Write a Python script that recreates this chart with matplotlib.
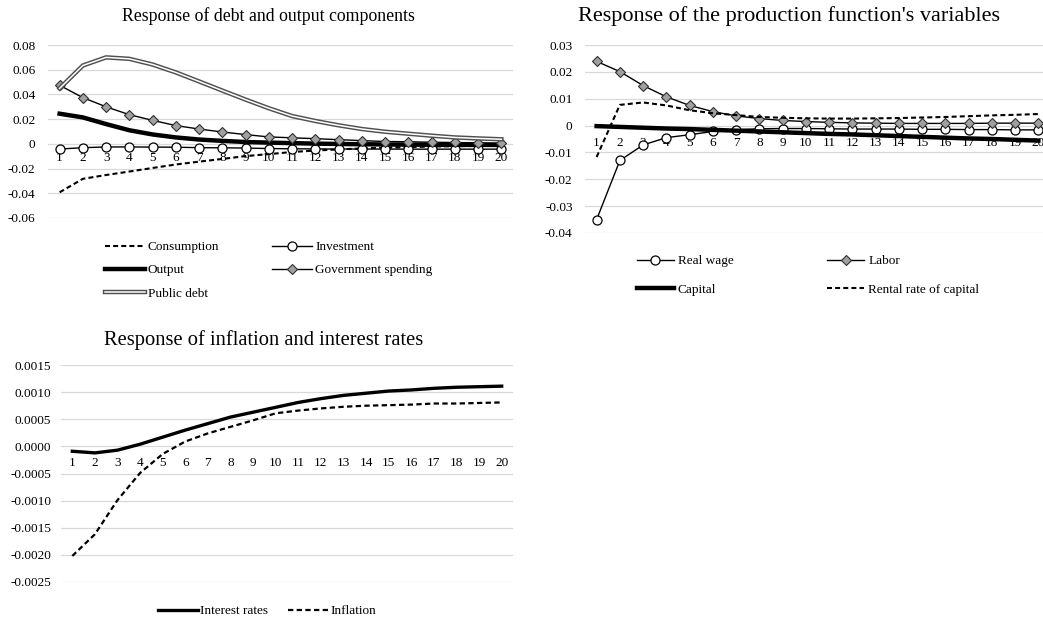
import matplotlib
matplotlib.use("Agg")
import matplotlib.pyplot as plt
import matplotlib.patheffects as pe

plt.rcParams['font.family'] = ['Liberation Serif', 'DejaVu Serif']
plt.rcParams['axes.unicode_minus'] = False

# horizon (quarters)
periods = list(range(1, 21))

# --- debt and output components ---
consumption = [-0.0392, -0.0283, -0.0252, -0.0224, -0.0195, -0.0167, -0.0144, -0.0122, -0.0099, -0.0083,
               -0.0066, -0.0054, -0.0045, -0.0037, -0.0031, -0.0026, -0.0022, -0.0019, -0.0017, -0.0015]
investment = [-0.0042, -0.0031, -0.0025, -0.0025, -0.0026, -0.0027, -0.0031, -0.0032, -0.0034, -0.0038,
              -0.0040, -0.0041, -0.0042, -0.0042, -0.0042, -0.0043, -0.0043, -0.0043, -0.0043, -0.0043]
output = [0.0244, 0.0214, 0.0160, 0.0110, 0.0076, 0.0052, 0.0035, 0.0024, 0.0015, 0.0010,
          0.0006, 0.0002, -0.0001, -0.0003, -0.0005, -0.0006, -0.0007, -0.0008, -0.0008, -0.0009]
gov_spending = [0.0474, 0.0374, 0.0300, 0.0236, 0.0190, 0.0148, 0.0120, 0.0096, 0.0075, 0.0056,
                0.0049, 0.0042, 0.0034, 0.0026, 0.0019, 0.0017, 0.0013, 0.0011, 0.0008, 0.0006]
public_debt = [0.0449, 0.0634, 0.0700, 0.0688, 0.0642, 0.0578, 0.0505, 0.0431, 0.0358, 0.0288,
               0.0225, 0.0185, 0.0150, 0.0120, 0.0098, 0.0082, 0.0066, 0.0052, 0.0044, 0.0037]

# --- production function variables ---
real_wage = [-0.0350, -0.0130, -0.0072, -0.0045, -0.0034, -0.0022, -0.0015, -0.0012, -0.0011, -0.0011,
             -0.0012, -0.0013, -0.0013, -0.0013, -0.0014, -0.0014, -0.0015, -0.0015, -0.0016, -0.0016]
labor = [0.0239, 0.0201, 0.0149, 0.0107, 0.0075, 0.0052, 0.0036, 0.0026, 0.0019, 0.0015,
         0.0012, 0.0010, 0.0009, 0.0008, 0.0008, 0.0008, 0.0008, 0.0009, 0.0009, 0.0009]
capital = [-0.0002, -0.0005, -0.0008, -0.0011, -0.0013, -0.0016, -0.0019, -0.0022, -0.0025, -0.0028,
           -0.0031, -0.0033, -0.0036, -0.0039, -0.0042, -0.0045, -0.0048, -0.0050, -0.0053, -0.0056]
rental_rate = [-0.0117, 0.0077, 0.0086, 0.0075, 0.0057, 0.0046, 0.0039, 0.0032, 0.0029, 0.0027,
               0.0026, 0.0026, 0.0027, 0.0028, 0.0030, 0.0032, 0.0035, 0.0038, 0.0040, 0.0043]

# --- inflation and interest rates ---
interest_rates = [-0.00009, -0.00012, -0.00007, 0.00004, 0.00017, 0.00030, 0.00042, 0.00054, 0.00063, 0.00072,
                  0.00081, 0.00088, 0.00094, 0.00098, 0.00102, 0.00104, 0.00107, 0.00109, 0.00110, 0.00111]
inflation = [-0.00202, -0.00162, -0.00099, -0.00049, -0.00014, 0.00009, 0.00024, 0.00036, 0.00048, 0.00061,
             0.00066, 0.00070, 0.00073, 0.00075, 0.00076, 0.00077, 0.00079, 0.00079, 0.00080, 0.00081]

yticks1 = [-0.06, -0.04, -0.02, 0, 0.02, 0.04, 0.06, 0.08]
ylabels1 = ['-0.06', '-0.04', '-0.02', '0', '0.02', '0.04', '0.06', '0.08']
yticks2 = [-0.04, -0.03, -0.02, -0.01, 0, 0.01, 0.02, 0.03]
ylabels2 = ['-0.04', '-0.03', '-0.02', '-0.01', '0', '0.01', '0.02', '0.03']
yticks3 = [-0.0025, -0.0020, -0.0015, -0.0010, -0.0005, 0.0, 0.0005, 0.0010, 0.0015]
ylabels3 = ['-0.0025', '-0.0020', '-0.0015', '-0.0010', '-0.0005', '0.0000', '0.0005', '0.0010', '0.0015']

W, H = 1043, 620
GRID = '#d9d9d9'
DIAMOND = '#a0a0a0'
FS = 9.5

dash = (0, (2.4, 1.5))
circle = dict(marker='o', ms=6.5, mfc='white', mec='black', mew=0.9)
diamond = dict(marker='D', ms=5, mfc=DIAMOND, mec='#303030', mew=0.8)
double = [pe.Stroke(linewidth=3.2, foreground='#505050'), pe.Normal()]


def px_axes(fig, left, top, width, height):
    """add axes placed by pixel box (top-left origin)"""
    return fig.add_axes([left / W, 1 - (top + height) / H, width / W, height / H])


def style(ax, ticks, labels, pad_y, pad_x):
    ax.set_xlim(0.5, 20.5)
    ax.set_ylim(ticks[0], ticks[-1])
    ax.set_yticks(ticks)
    ax.set_yticklabels(labels)
    ax.set_xticks(periods)
    ax.set_xticklabels([str(p) for p in periods])
    for s in ax.spines.values():
        s.set_visible(False)
    ax.spines['bottom'].set_position(('data', 0))
    ax.tick_params(axis='both', length=0, labelsize=FS)
    ax.tick_params(axis='y', pad=pad_y)
    ax.tick_params(axis='x', pad=pad_x)
    ax.grid(axis='y', color=GRID, lw=0.9)
    ax.set_axisbelow(True)


fig = plt.figure(figsize=(W / 100, H / 100), dpi=100)

# panel 1
ax1 = px_axes(fig, 48, 45, 465, 173)
style(ax1, yticks1, ylabels1, 9, 6)
l_c, = ax1.plot(periods, consumption, color='black', lw=1.5, ls=dash, label='Consumption')
l_i, = ax1.plot(periods, investment, color='black', lw=1.0, label='Investment', **circle)
l_o, = ax1.plot(periods, output, color='black', lw=3.2, label='Output')
l_g, = ax1.plot(periods, gov_spending, color='black', lw=1.0, label='Government spending', **diamond)
l_d, = ax1.plot(periods, public_debt, color='white', lw=1.1, path_effects=double, label='Public debt')
fig.legend(handles=[l_c, l_o, l_d, l_i, l_g], ncol=2, loc='upper left',
           bbox_to_anchor=(105 / W, 1 - 241 / H), frameon=False, fontsize=FS,
           borderpad=0, borderaxespad=0, handlelength=3.0, handletextpad=0.25,
           columnspacing=4.0, labelspacing=0.83)

# panel 2
ax2 = px_axes(fig, 585, 45, 465, 188)
style(ax2, yticks2, ylabels2, 9, 8)
l_w, = ax2.plot(periods, real_wage, color='black', lw=1.0, label='Real wage', **circle)
l_l, = ax2.plot(periods, labor, color='black', lw=1.0, label='Labor', **diamond)
l_k, = ax2.plot(periods, capital, color='black', lw=3.2, label='Capital')
l_r, = ax2.plot(periods, rental_rate, color='black', lw=1.5, ls=dash, label='Rental rate of capital')
fig.legend(handles=[l_w, l_k, l_l, l_r], ncol=2, loc='upper left',
           bbox_to_anchor=(637 / W, 1 - 255 / H), frameon=False, fontsize=FS,
           borderpad=0, borderaxespad=0, handlelength=2.8, handletextpad=0.3,
           columnspacing=7.1, labelspacing=1.25)

# panel 3
ax3 = px_axes(fig, 61, 365, 452, 217)
style(ax3, yticks3, ylabels3, 7, 8)
l_ir, = ax3.plot(periods, interest_rates, color='black', lw=2.4, label='Interest rates')
l_pi, = ax3.plot(periods, inflation, color='black', lw=1.6, ls=dash, label='Inflation')
fig.legend(handles=[l_ir, l_pi], ncol=2, loc='upper left',
           bbox_to_anchor=(158 / W, 1 - 605 / H), frameon=False, fontsize=FS,
           borderpad=0, borderaxespad=0, handlelength=3.0, handletextpad=0.2,
           columnspacing=1.5)

fig.text(268 / W, 1 - 21 / H, 'Response of debt and output components',
         ha='center', va='baseline', fontsize=12.8)
fig.text(789 / W, 1 - 21 / H, "Response of the production function's variables",
         ha='center', va='baseline', fontsize=16)
fig.text(264 / W, 1 - 345 / H, 'Response of inflation and interest rates',
         ha='center', va='baseline', fontsize=14.8)

fig.savefig('out.png', dpi=100)
